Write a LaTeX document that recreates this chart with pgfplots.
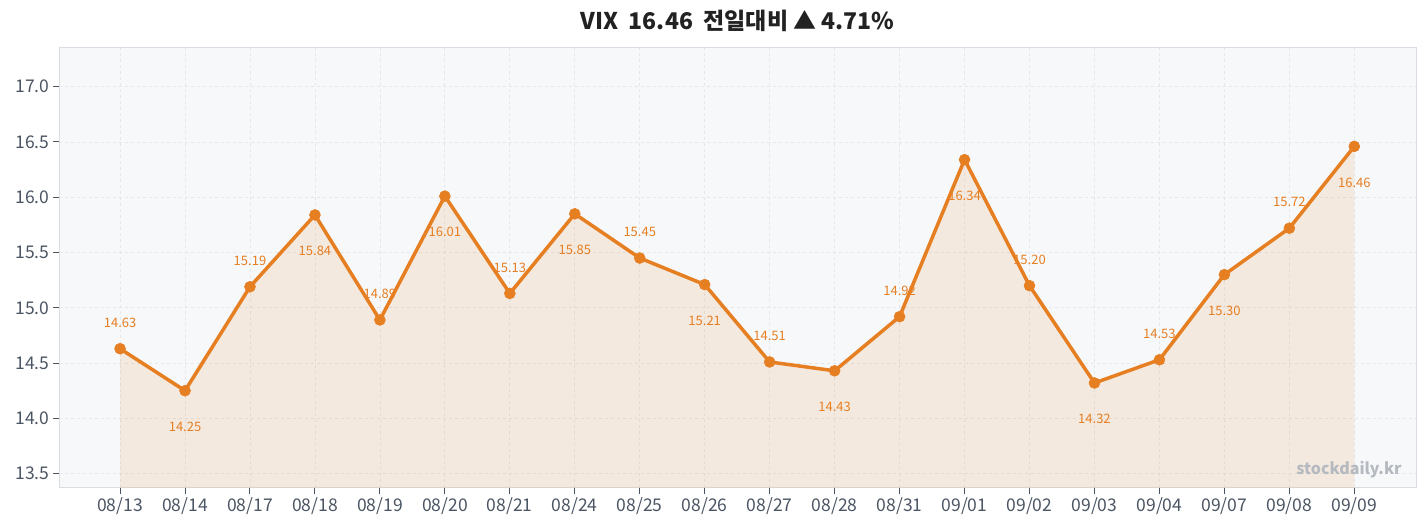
\documentclass[border=0pt]{standalone}
\usepackage{fontspec}
\setmainfont{Noto Sans CJK KR}
\usepackage{pgfplots}
\pgfplotsset{compat=1.18}
\usepackage{pgfplotstable}

\definecolor{vixline}{HTML}{E67E22}
\definecolor{panelbg}{HTML}{F7F8FA}
\definecolor{gridc}{HTML}{E4E7EB}
\definecolor{framec}{HTML}{D9DDE3}
\definecolor{tickc}{HTML}{4B5563}
\definecolor{titlec}{HTML}{222222}
\definecolor{markc}{HTML}{B5B9C0}

% x, closing value, label offset (pt)
\pgfplotstableread{
x val dy
0 14.63 26
1 14.25 -36
2 15.19 26
3 15.84 -36
4 14.89 26
5 16.01 -36
6 15.13 26
7 15.85 -36
8 15.45 26
9 15.21 -36
10 14.51 26
11 14.43 -36
12 14.92 26
13 16.34 -36
14 15.20 26
15 14.32 -36
16 14.53 26
17 15.30 -36
18 15.72 26
19 16.46 -36
}\vix

\begin{document}
\begin{tikzpicture}
\useasboundingbox (0,0) rectangle (1427pt,529pt);
\node[font=\bfseries\fontsize{23}{23}\selectfont, text=titlec] at (737.5pt,508pt)
  {VIX\ \ 16.46\ \ 전일대비 ▲ 4.71\%};
\begin{axis}[
  at={(59pt,41pt)}, anchor=south west,
  width=1357pt, height=440pt, scale only axis,
  xmin=-0.94, xmax=19.95, ymin=13.37, ymax=17.35,
  xtick={0,...,19},
  xticklabels={08/13,08/14,08/17,08/18,08/19,08/20,08/21,08/24,08/25,08/26,
    08/27,08/28,08/31,09/01,09/02,09/03,09/04,09/07,09/08,09/09},
  ytick={13.5,14,14.5,15,15.5,16,16.5,17},
  yticklabel style={/pgf/number format/.cd,fixed,fixed zerofill,precision=1},
  /pgf/number format/assume math mode=true,
  grid=major,
  major grid style={dashed, gridc, line width=0.8pt},
  axis background/.style={fill=panelbg},
  axis line style={framec, line width=1pt},
  tick align=outside, major tick length=6pt,
  tick style={tickc, line width=1pt},
  ticklabel style={font=\fontsize{17.5}{17.5}\selectfont, text=tickc},
  xtick pos=bottom, ytick pos=left,
]
\addplot[draw=none, fill=vixline, fill opacity=0.12] table[x=x, y=val] {\vix} \closedcycle;
\addplot[vixline, line width=3.5pt, mark=*, mark size=5.5pt,
  mark options={solid, fill=vixline, draw=vixline, line width=0.5pt},
  point meta=explicit,
  visualization depends on={\thisrow{dy} \as \dy},
  nodes near coords={\pgfmathprintnumber[fixed,fixed zerofill,precision=2]{\pgfplotspointmeta}},
  every node near coord/.append style={anchor=center, yshift=\dy,
    font=\fontsize{13}{13}\selectfont, text=vixline},
] table[x=x, y=val, meta=val] {\vix};
\node[anchor=south east, font=\bfseries\fontsize{16}{16}\selectfont, text=markc]
  at (rel axis cs:0.992,0.015) {stockdaily.kr};
\end{axis}
\end{tikzpicture}
\end{document}
